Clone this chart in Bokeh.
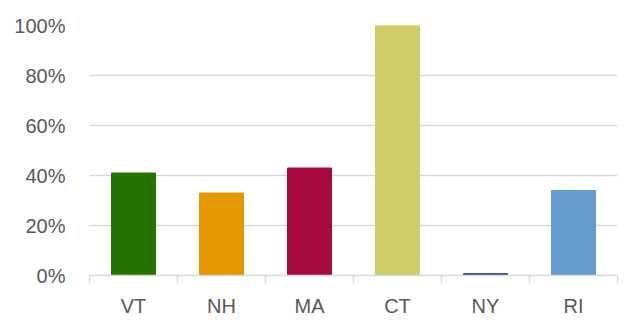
import numpy as np
from bokeh.plotting import figure
from bokeh.models import Range1d, FixedTicker, NumeralTickFormatter, ColumnDataSource
from bokeh.embed import file_html
from bokeh.resources import INLINE

states = ["VT", "NH", "MA", "CT", "NY", "RI"]
values = [0.41, 0.33, 0.43, 1.00, 0.008, 0.34]
colors = ["#267300", "#E69800", "#A80C3E", "#CDCD66", "#3F4A8A", "#669BCF"]
y_ticks = [0, 0.2, 0.4, 0.6, 0.8, 1.0]

pos = np.arange(len(states)) + 0.5
src = ColumnDataSource(dict(x=pos, top=values, color=colors))

p = figure(width=628, height=327, output_backend="svg", toolbar_location=None,
           x_range=Range1d(0, len(states)), y_range=Range1d(0, 1.0),
           min_border_left=89, min_border_right=11, min_border_top=25, min_border_bottom=52)
p.outline_line_color = None
p.background_fill_color = "white"

p.vbar(x="x", top="top", width=0.5, color="color", source=src)

label_font = "Liberation Sans"
grey = "#595959"
# y axis
p.yaxis.ticker = FixedTicker(ticks=y_ticks)
p.yaxis.formatter = NumeralTickFormatter(format="0%")
p.yaxis.axis_line_color = None
p.yaxis.major_tick_line_color = None
p.yaxis.minor_tick_line_color = None
p.yaxis.major_tick_out = 0
p.yaxis.major_label_standoff = 24
p.yaxis.major_label_text_font = label_font
p.yaxis.major_label_text_font_size = "20px"
p.yaxis.major_label_text_color = grey

# x axis
p.xaxis.ticker = FixedTicker(ticks=list(pos), minor_ticks=list(range(len(states) + 1)))
p.xaxis.major_label_overrides = {float(x): s for x, s in zip(pos, states)}
p.xaxis.axis_line_color = "#D9D9D9"
p.xaxis.axis_line_width = 1.5
p.xaxis.major_tick_line_color = None
p.xaxis.major_tick_out = 0
p.xaxis.major_tick_in = 0
p.xaxis.minor_tick_line_color = "#D9D9D9"
p.xaxis.minor_tick_line_width = 1.5
p.xaxis.minor_tick_out = 8
p.xaxis.minor_tick_in = 0
p.xaxis.major_label_standoff = 11
p.xaxis.major_label_text_font = label_font
p.xaxis.major_label_text_font_size = "20px"
p.xaxis.major_label_text_color = grey

p.xgrid.grid_line_color = None
p.ygrid.grid_line_color = "#D9D9D9"
p.ygrid.grid_line_width = 1.5

open("out.html", "w").write(file_html(p, INLINE))
